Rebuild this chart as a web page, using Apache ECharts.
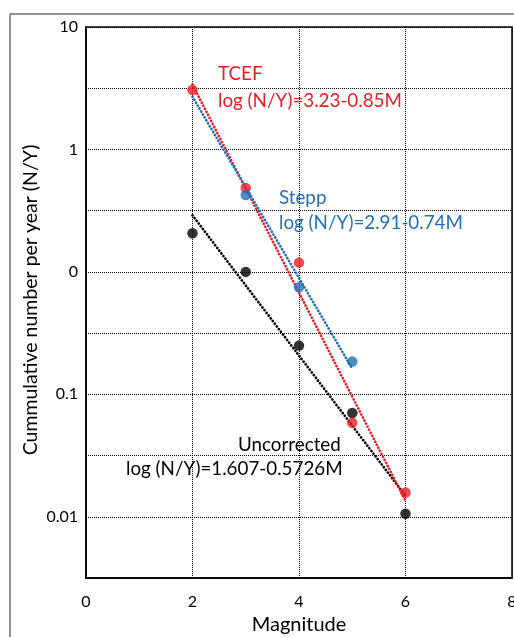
<!DOCTYPE html>
<html>
<head>
<meta charset="utf-8">
<script src="https://cdn.jsdelivr.net/npm/echarts@6/dist/echarts.min.js"></script>
<style>
  html, body { margin: 0; padding: 0; background: #fff; }
  #chart { width: 514px; height: 637px; }
</style>
</head>
<body>
<div id="chart"></div>
<script>
// Cumulative annual rate vs. magnitude, three catalogue versions
const magnitudes = [2, 3, 4, 5, 6];

const tcefRates        = [30.6, 4.85, 1.19, 0.0585, 0.0158];
const steppMagnitudes  = [3, 4, 5];
const steppRates       = [4.25, 0.75, 0.185];
const uncorrectedRates = [2.07, 1.0, 0.25, 0.0703, 0.0106];

// Gutenberg-Richter fits: log(N/Y) = a - bM
const tcefFit        = { a: 3.23,  b: 0.85,   from: 2, to: 6, aText: '3.23',  bText: '0.85' };
const steppFit       = { a: 2.91,  b: 0.74,   from: 2, to: 5, aText: '2.91',  bText: '0.74' };
const uncorrectedFit = { a: 1.607, b: 0.5726, from: 2, to: 6, aText: '1.607', bText: '0.5726' };

// Tick labels printed on the rate axis, one per decade from the top down
const yTickLabels = ['10', '1', '0', '0.1', '0.01'];
const xTicks = [0, 2, 4, 6, 8];

const RED = '#ee1d25';
const BLUE = '#1f6fb9';
const BLACK = '#000000';
const FONT = 'Lato';
const NOTE_FONT = '18.8px ' + FONT;

function fitLine(fit) {
  const rate = m => Math.pow(10, fit.a - fit.b * m);
  return [[fit.from, rate(fit.from)], [fit.to, rate(fit.to)]];
}
function eqText(fit) {
  return 'log (N/Y)=' + fit.aText + '-' + fit.bText + 'M';
}
function pairs(xs, ys) { return xs.map((x, i) => [x, ys[i]]); }

// gridlines every half decade
const HALF_DECADE = Math.sqrt(10);
const yMin = Math.pow(10, -2.5);
const yMax = 100;

const chart = echarts.init(document.getElementById('chart'), null, { renderer: 'canvas' });

function trend(fit, color, name) {
  return {
    name: name, type: 'line', data: fitLine(fit), symbol: 'none', z: 3,
    lineStyle: { color: color, width: 2.7, type: [0.1, 3.3], cap: 'round' },
    silent: true, animation: false
  };
}
function pts(data, color, name) {
  return {
    name: name, type: 'scatter', data: data, symbol: 'circle', symbolSize: 10.5, z: 4,
    itemStyle: { color: color }, animation: false
  };
}

const option = {
  animation: false,
  backgroundColor: '#fff',
  grid: { left: 86, top: 27, width: 426, height: 551, containLabel: false,
          outerBoundsMode: 'none',
          show: true, borderColor: '#000', borderWidth: 1.5 },
  xAxis: {
    type: 'value', min: 0, max: 8, interval: 2,
    axisLine: { show: true, lineStyle: { color: '#000', width: 1.5 } },
    axisTick: { show: false },
    axisLabel: { color: '#000', fontFamily: FONT, fontSize: 16, margin: 16,
                 formatter: v => xTicks.includes(v) ? String(v) : '' },
    splitLine: { show: true, lineStyle: { color: '#000', width: 1, type: [1, 1] } },
    name: 'Magnitude', nameLocation: 'middle', nameGap: 37,
    nameTextStyle: { color: '#000', fontFamily: FONT, fontSize: 20 }
  },
  yAxis: {
    type: 'log', logBase: HALF_DECADE, min: yMin, max: yMax, splitNumber: 9,
    axisLine: { show: true, lineStyle: { color: '#000', width: 1.5 } },
    axisTick: { show: false },
    axisLabel: {
      color: '#000', fontFamily: FONT, fontSize: 16, margin: 8,
      formatter: function (v) {
        const n = Math.round(Math.log10(v) * 2);
        if (n % 2 !== 0) return '';
        const idx = (4 - n) / 2;
        return yTickLabels[idx] !== undefined ? yTickLabels[idx] : '';
      }
    },
    splitLine: { show: true, lineStyle: { color: '#000', width: 1, type: [1, 1] } }
  },
  graphic: [
    // chart frame
    { type: 'line', shape: { x1: 10, y1: 14, x2: 514, y2: 14 }, style: { stroke: '#6f6f6f', lineWidth: 1.5 }, silent: true },
    { type: 'line', shape: { x1: 10, y1: 14, x2: 10, y2: 637 }, style: { stroke: '#6f6f6f', lineWidth: 1.5 }, silent: true },
    // rate axis title
    { type: 'text', x: 31, y: 300, rotation: Math.PI / 2,
      style: { text: 'Cummulative number per year (N/Y)', fill: '#000', font: '19.5px ' + FONT,
               align: 'center', verticalAlign: 'middle' } },
    // fit annotations
    { type: 'text', left: 218, top: 64, style: { text: 'TCEF', fill: RED, font: NOTE_FONT } },
    { type: 'text', left: 218, top: 91, style: { text: eqText(tcefFit), fill: RED, font: NOTE_FONT } },
    { type: 'text', left: 279, top: 188, style: { text: 'Stepp', fill: BLUE, font: NOTE_FONT } },
    { type: 'text', left: 279, top: 213, style: { text: eqText(steppFit), fill: BLUE, font: NOTE_FONT } },
    { type: 'text', left: 238, top: 435, style: { text: 'Uncorrected', fill: BLACK, font: NOTE_FONT } },
    { type: 'text', left: 126, top: 459, style: { text: eqText(uncorrectedFit), fill: BLACK, font: NOTE_FONT } }
  ],
  series: [
    trend(uncorrectedFit, BLACK, 'Uncorrected fit'),
    trend(tcefFit, RED, 'TCEF fit'),
    trend(steppFit, BLUE, 'Stepp fit'),
    pts(pairs(magnitudes, uncorrectedRates), BLACK, 'Uncorrected'),
    pts(pairs(magnitudes, tcefRates), RED, 'TCEF'),
    pts(pairs(steppMagnitudes, steppRates), BLUE, 'Stepp')
  ]
};

chart.setOption(option);
</script>
</body>
</html>
